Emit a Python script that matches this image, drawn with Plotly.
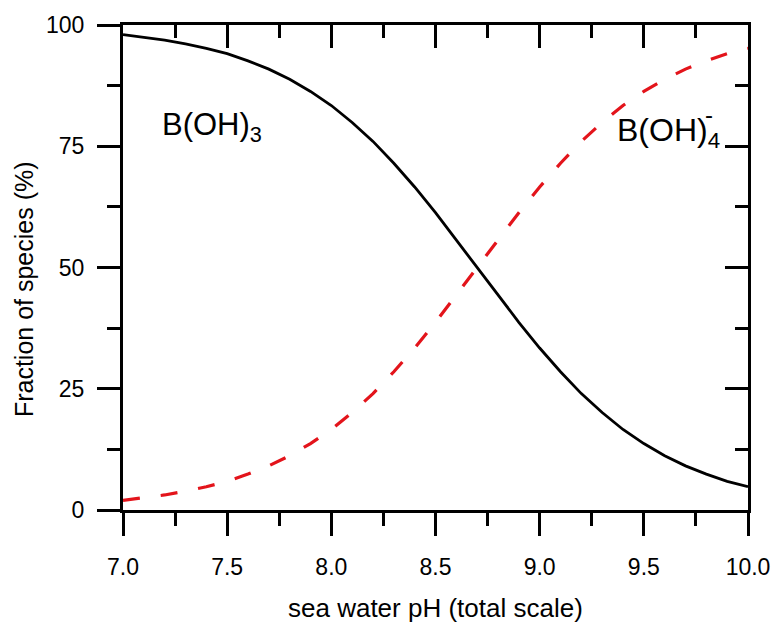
import plotly.graph_objects as go

# Boron speciation in sea water versus pH (total scale)
ph = [7.0, 7.1, 7.2, 7.3, 7.4, 7.5, 7.6, 7.7, 7.8, 7.9,
      8.0, 8.1, 8.2, 8.3, 8.4, 8.5, 8.6, 8.7, 8.8, 8.9,
      9.0, 9.1, 9.2, 9.3, 9.4, 9.5, 9.6, 9.7, 9.8, 9.9, 10.0]
boric_acid = [98.0, 97.5, 96.9, 96.1, 95.2, 94.1, 92.6, 90.9, 88.8, 86.3,
              83.4, 79.9, 76.0, 71.5, 66.6, 61.3, 55.7, 50.0, 44.3, 38.7,
              33.4, 28.5, 24.0, 20.1, 16.6, 13.7, 11.2, 9.1, 7.4, 5.9, 4.8]
borate = [2.0, 2.5, 3.1, 3.9, 4.8, 5.9, 7.4, 9.1, 11.2, 13.7,
          16.6, 20.1, 24.0, 28.5, 33.4, 38.7, 44.3, 50.0, 55.7, 61.3,
          66.6, 71.5, 76.0, 79.9, 83.4, 86.3, 88.8, 90.9, 92.6, 94.1, 95.2]

x_ticks = [7.0, 7.5, 8.0, 8.5, 9.0, 9.5, 10.0]
y_ticks = [0, 25, 50, 75, 100]

FONT = "Liberation Sans, Arial, Helvetica, sans-serif"

fig = go.Figure()
fig.add_trace(go.Scatter(x=ph, y=boric_acid, mode="lines",
                         line=dict(color="black", width=2.8),
                         showlegend=False, hoverinfo="skip"))
fig.add_trace(go.Scatter(x=ph, y=borate, mode="lines",
                         line=dict(color="#e3141b", width=3.2, dash="17px,21px"),
                         showlegend=False, hoverinfo="skip"))
# empty trace so the mirrored top/right axes are drawn
fig.add_trace(go.Scatter(x=[], y=[], xaxis="x2", yaxis="y2",
                         showlegend=False, hoverinfo="skip"))

common = dict(showline=True, linewidth=3, linecolor="black", automargin=False,
              tickwidth=3, tickcolor="black", showgrid=False, zeroline=False)

fig.update_layout(
    width=774, height=623,
    margin=dict(l=123, r=26, t=25, b=113, autoexpand=False),
    paper_bgcolor="white", plot_bgcolor="white",
    font=dict(family=FONT, size=23, color="black"),
    xaxis=dict(range=[7, 10], tickvals=x_ticks, tickformat=".1f",
               ticks="outside", ticklen=23, ticklabelstandoff=11,
               minor=dict(ticks="outside", ticklen=13, dtick=0.25,
                          tickwidth=3, tickcolor="black", showgrid=False),
               **common),
    yaxis=dict(range=[0, 100], tickvals=y_ticks,
               ticks="outside", ticklen=23, ticklabelstandoff=8,
               minor=dict(ticks="outside", ticklen=13, dtick=12.5,
                          tickwidth=3, tickcolor="black", showgrid=False),
               **common),
    xaxis2=dict(range=[7, 10], overlaying="x", side="top", matches="x",
                ticks="inside", ticklen=23, showticklabels=False, dtick=0.5,
                minor=dict(ticks="inside", ticklen=13, dtick=0.25,
                           tickwidth=3, tickcolor="black", showgrid=False),
                **common),
    yaxis2=dict(range=[0, 100], overlaying="y", side="right", matches="y",
                ticks="inside", ticklen=23, showticklabels=False, dtick=25,
                minor=dict(ticks="inside", ticklen=13, dtick=12.5,
                           tickwidth=3, tickcolor="black", showgrid=False),
                **common),
)

# axis titles
fig.add_annotation(text="sea water pH (total scale)", xref="paper", yref="paper",
                   x=0.5, y=-0.203, yanchor="middle", showarrow=False,
                   font=dict(family=FONT, size=26))
fig.add_annotation(text="Fraction of species (%)", xref="paper", yref="paper",
                   x=-0.158, y=0.456, textangle=-90, showarrow=False,
                   xanchor="center", yanchor="middle",
                   font=dict(family=FONT, size=25))

# species labels; the borate charge sits above its subscript
fig.add_annotation(text="B(OH)<sub>3</sub>", x=7.178, y=79.0, xanchor="left",
                   yanchor="middle", showarrow=False,
                   font=dict(family=FONT, size=31))
fig.add_annotation(text="B(OH)<sub>4</sub>", x=9.362, y=77.8, xanchor="left",
                   yanchor="middle", showarrow=False,
                   font=dict(family=FONT, size=32))
fig.add_annotation(text="-", x=9.813, y=81.5, xanchor="center",
                   yanchor="middle", showarrow=False,
                   font=dict(family=FONT, size=24))

fig.write_html("out.html")
